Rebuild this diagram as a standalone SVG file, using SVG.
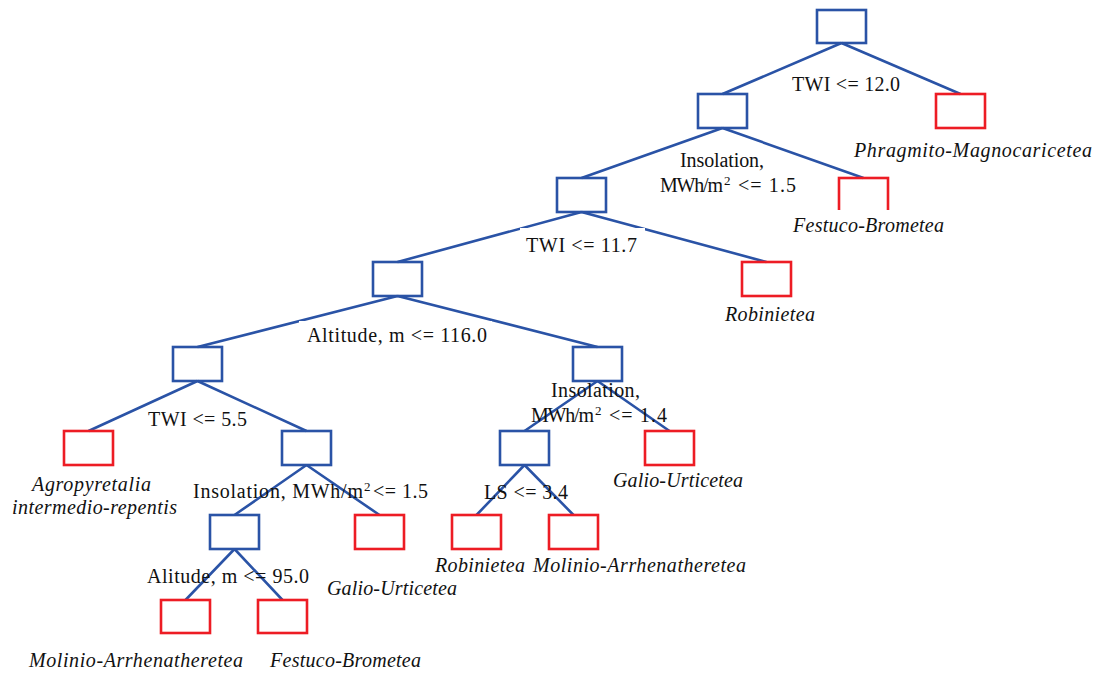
<svg xmlns="http://www.w3.org/2000/svg" width="1095" height="674" viewBox="0 0 1095 674">
<style>
.b{fill:none;stroke:#2a53a6;stroke-width:2.6}
.r{fill:none;stroke:#ed1c24;stroke-width:2.6}
.e{stroke:#2a53a6;stroke-width:2.6;fill:none}
.t{font-family:"Liberation Serif","Times New Roman",serif;font-size:20px;fill:#111}
.i{font-family:"Liberation Serif","Times New Roman",serif;font-size:20px;font-style:italic;fill:#111}
.s{font-family:"Liberation Serif","Times New Roman",serif;font-size:13px;fill:#111}
.bg{fill:#fff}
</style>
<rect width="1095" height="674" fill="#fff"/>
<g id="connectors">
<path class="e" d="M841.5 43 L722.5 94 M841.5 43 L960.5 94"/>
<path class="e" d="M722.5 128 L581.5 178 M722.5 128 L863.5 178"/>
<path class="e" d="M581.5 212 L397.5 262 M581.5 212 L766.5 262"/>
<path class="e" d="M397.5 296 L197.5 347 M397.5 296 L597.5 347"/>
<path class="e" d="M197.5 381 L88.5 431 M197.5 381 L306.5 431"/>
<path class="e" d="M597.5 381 L524.5 431 M597.5 381 L669.5 431"/>
<path class="e" d="M524.5 465 L476.5 515 M524.5 465 L573.5 515"/>
<path class="e" d="M306.5 465 L234.5 515 M306.5 465 L379.5 515"/>
<path class="e" d="M234.5 549 L185.5 600 M234.5 549 L282.5 600"/>
</g>
<g id="n-root"><rect class="b" x="817" y="10" width="49" height="33"/></g>
<g id="n1"><rect class="b" x="698" y="94" width="49" height="34"/></g>
<g id="leaf-phragmito"><rect class="r" x="936" y="94" width="49" height="34"/>
<text class="i" x="854" y="157" textLength="238" lengthAdjust="spacing">Phragmito-Magnocaricetea</text></g>
<g id="n2"><rect class="b" x="557" y="178" width="49" height="34"/></g>
<g id="leaf-festuco-top"><rect class="r" x="839" y="178" width="49" height="34"/>
<rect class="bg" x="790" y="210" width="160" height="30"/>
<text class="i" x="793" y="232" textLength="151" lengthAdjust="spacing">Festuco-Brometea</text></g>
<g id="n3"><rect class="b" x="373" y="262" width="49" height="34"/></g>
<g id="leaf-robinietea-top"><rect class="r" x="742" y="262" width="49" height="34"/>
<text class="i" x="725" y="321" textLength="90" lengthAdjust="spacing">Robinietea</text></g>
<g id="n4L"><rect class="b" x="173" y="347" width="49" height="34"/></g>
<g id="n4R"><rect class="b" x="573" y="347" width="49" height="34"/></g>
<g id="leaf-agropyretalia"><rect class="r" x="64" y="431" width="49" height="34"/>
<text class="i" x="32" y="491" textLength="119" lengthAdjust="spacing">Agropyretalia</text>
<text class="i" x="12" y="514" textLength="165" lengthAdjust="spacing">intermedio-repentis</text></g>
<g id="n5"><rect class="b" x="282" y="431" width="49" height="34"/></g>
<g id="n6"><rect class="b" x="500" y="431" width="49" height="34"/></g>
<g id="leaf-galio-right"><rect class="r" x="645" y="431" width="49" height="34"/>
<text class="i" x="613" y="487" textLength="130" lengthAdjust="spacing">Galio-Urticetea</text></g>
<g id="n7"><rect class="b" x="210" y="515" width="49" height="34"/></g>
<g id="leaf-galio-left"><rect class="r" x="355" y="515" width="49" height="34"/>
<text class="i" x="327" y="595" textLength="130" lengthAdjust="spacing">Galio-Urticetea</text></g>
<g id="leaf-robinietea-bottom"><rect class="r" x="452" y="515" width="49" height="34"/>
<text class="i" x="435" y="572" textLength="90" lengthAdjust="spacing">Robinietea</text></g>
<g id="leaf-molinio-mid"><rect class="r" x="549" y="515" width="49" height="34"/>
<text class="i" x="533" y="572" textLength="213" lengthAdjust="spacing">Molinio-Arrhenatheretea</text></g>
<g id="leaf-molinio-bottom"><rect class="r" x="161" y="600" width="49" height="33"/>
<text class="i" x="29" y="667" textLength="214" lengthAdjust="spacing">Molinio-Arrhenatheretea</text></g>
<g id="leaf-festuco-bottom"><rect class="r" x="258" y="600" width="49" height="33"/>
<text class="i" x="270" y="667" textLength="151" lengthAdjust="spacing">Festuco-Brometea</text></g>
<g id="edge-labels">
<text class="t" x="792" y="91" textLength="108" lengthAdjust="spacing">TWI &lt;= 12.0</text>
<text class="t" x="680" y="167" textLength="84" lengthAdjust="spacing">Insolation,</text>
<text class="t" x="660" y="192" textLength="63" lengthAdjust="spacing">MWh/m</text>
<text class="s" x="724" y="185">2</text>
<text class="t" x="738" y="192" textLength="58" lengthAdjust="spacing">&lt;= 1.5</text>
<rect class="bg" x="520" y="228" width="125" height="30"/>
<text class="t" x="526" y="252" textLength="111" lengthAdjust="spacing">TWI &lt;= 11.7</text>
<rect class="bg" x="299" y="321" width="193" height="26"/>
<text class="t" x="307" y="342" textLength="180" lengthAdjust="spacing">Altitude, m &lt;= 116.0</text>
<text class="t" x="551" y="397" textLength="89" lengthAdjust="spacing">Insolation,</text>
<text class="t" x="531" y="422" textLength="63" lengthAdjust="spacing">MWh/m</text>
<text class="s" x="595" y="415">2</text>
<text class="t" x="609" y="422" textLength="58" lengthAdjust="spacing">&lt;= 1.4</text>
<text class="t" x="148" y="426" textLength="99" lengthAdjust="spacing">TWI &lt;= 5.5</text>
<text class="t" x="193" y="498" textLength="170" lengthAdjust="spacing">Insolation, MWh/m</text>
<text class="s" x="364" y="491">2</text>
<text class="t" x="373" y="498" textLength="55" lengthAdjust="spacing">&lt;= 1.5</text>
<text class="t" x="484" y="499" textLength="84" lengthAdjust="spacing">LS &lt;= 3.4</text>
<text class="t" x="147" y="583" textLength="162" lengthAdjust="spacing">Alitude, m &lt;= 95.0</text>
</g>
</svg>
